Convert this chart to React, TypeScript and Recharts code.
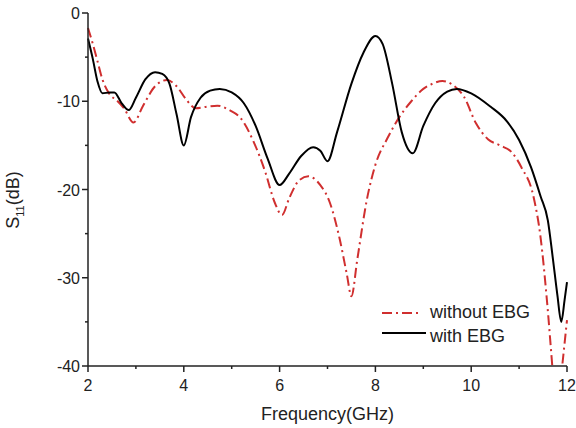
import { LineChart, Line, XAxis, YAxis, Legend } from "recharts";

// with EBG (black solid)
const freqWith = [
  2.0, 2.1, 2.2, 2.3, 2.45, 2.55, 2.7, 2.85, 3.0, 3.2, 3.4, 3.55, 3.7, 3.85, 4.0,
  4.15, 4.35, 4.55, 4.75, 5.0, 5.25, 5.5, 5.75, 6.0, 6.2, 6.45, 6.7, 6.85, 7.0,
  7.2, 7.5, 7.75, 8.0, 8.15, 8.35, 8.55, 8.78, 9.0, 9.25, 9.5, 9.7, 10.0, 10.4,
  10.75, 11.0, 11.25, 11.45, 11.6, 11.7, 11.8, 11.88, 11.95, 12.0,
];
const s11With = [
  -2.9, -5.2, -7.8, -9.1, -9.0, -9.0, -10.2, -11.0, -9.6, -7.5, -6.7, -6.9, -8.0, -11.5, -15.0,
  -11.8, -9.6, -8.8, -8.6, -9.0, -10.2, -12.8, -16.5, -19.5, -18.2, -16.2, -15.2, -15.6, -16.8,
  -13.5, -8.0, -4.5, -2.6, -3.5, -8.0, -13.5, -15.9, -12.8, -10.2, -8.9, -8.6, -9.1, -10.6,
  -12.3, -14.4, -17.5, -20.8, -23.5, -27.6, -32.0, -35.0, -32.5, -30.5,
];

// without EBG (red dash-dot)
const freqWithout = [
  2.0, 2.1, 2.2, 2.3, 2.45, 2.6, 2.75, 2.95, 3.15, 3.4, 3.65, 3.85, 4.05, 4.25, 4.5,
  4.7, 4.95, 5.2, 5.45, 5.7, 5.9, 6.05, 6.2, 6.4, 6.6, 6.85, 7.05, 7.25, 7.4, 7.5,
  7.62, 7.82, 8.0, 8.25, 8.5, 8.75, 9.0, 9.2, 9.4, 9.6, 9.85, 10.1, 10.35, 10.6,
  10.85, 11.05, 11.3, 11.45, 11.58, 11.7, 11.78, 11.9, 12.0,
];
const s11Without = [
  -1.7, -3.5, -5.5, -7.5, -9.2, -9.9, -10.8, -12.4, -10.5, -8.3, -7.6, -8.3, -9.8, -10.8, -10.6,
  -10.5, -11.0, -12.0, -14.5, -18.0, -21.5, -22.9, -21.0, -19.0, -18.5, -19.5, -21.5, -25.5, -29.5, -32.1,
  -28.0, -21.2, -17.2, -14.2, -11.8, -10.0, -8.6, -8.0, -7.7, -8.1, -9.5, -12.5, -14.3, -15.0,
  -15.8, -17.5, -20.8, -25.5, -32.5, -40.5, -46.0, -40.0, -34.8,
];

const xTicks = [2, 3, 4, 5, 6, 7, 8, 9, 10, 11, 12];
const yTicks = [-40, -35, -30, -25, -20, -15, -10, -5, 0];

const withData = freqWith.map((f, i) => ({ f, s11: s11With[i] }));
const withoutData = freqWithout.map((f, i) => ({ f, s11: s11Without[i] }));

const FONT = "Arial, 'Liberation Sans', Helvetica, sans-serif";
const INK = "#222";
const RED = "#d02f2f";

function XTick(props: any) {
  const { x, y, payload } = props;
  const axisY = y - 8;
  const major = payload.value % 2 === 0;
  return (
    <g>
      <line x1={x} x2={x} y1={axisY} y2={axisY + (major ? 6 : 3)} stroke={INK} strokeWidth={1.5} />
      {major && (
        <text x={x} y={axisY + 25} textAnchor="middle" fontSize={16} fill={INK} fontFamily={FONT}>
          {payload.value}
        </text>
      )}
    </g>
  );
}

function YTick(props: any) {
  const { x, y, payload } = props;
  const axisX = x + 8;
  const major = payload.value % 10 === 0;
  return (
    <g>
      <line x1={axisX} x2={axisX - (major ? 6 : 3)} y1={y} y2={y} stroke={INK} strokeWidth={1.5} />
      {major && (
        <text x={axisX - 8} y={y + 6} textAnchor="end" fontSize={16} fill={INK} fontFamily={FONT}>
          {payload.value}
        </text>
      )}
    </g>
  );
}

function LegendBox() {
  return (
    <svg width={190} height={52}>
      <line x1={6} x2={46} y1={15} y2={15} stroke={RED} strokeWidth={2} strokeDasharray="10 4 2 4" />
      <text x={54} y={20} fontSize={18} fill={INK} fontFamily={FONT}>without EBG</text>
      <line x1={6} x2={50} y1={35} y2={35} stroke="#000" strokeWidth={2} />
      <text x={54} y={44} fontSize={18} fill={INK} fontFamily={FONT}>with EBG</text>
    </svg>
  );
}

export default function App() {
  return (
    <div style={{ position: "absolute", left: 0, top: 0, background: "#fff" }}>
      <LineChart width={576} height={428} margin={{ top: 13, right: 9, bottom: 0, left: 0 }}>
        <XAxis
          dataKey="f"
          type="number"
          domain={[2, 12]}
          ticks={xTicks}
          interval={0}
          height={62}
          tickSize={6}
          tickMargin={2}
          tickLine={false}
          tick={<XTick />}
          axisLine={{ stroke: INK, strokeWidth: 1.5 }}
          allowDuplicatedCategory={false}
          label={{
            value: "Frequency(GHz)",
            position: "insideBottom",
            offset: 8,
            fontSize: 18,
            fill: INK,
            fontFamily: FONT,
          }}
        />
        <XAxis
          xAxisId="top"
          orientation="top"
          type="number"
          domain={[2, 12]}
          height={0}
          tick={false}
          tickLine={false}
          axisLine={{ stroke: "#555", strokeWidth: 1.5 }}
        />
        <YAxis
          type="number"
          domain={[-40, 0]}
          ticks={yTicks}
          interval={0}
          allowDataOverflow
          width={88}
          tickSize={6}
          tickMargin={2}
          tickLine={false}
          tick={<YTick />}
          axisLine={{ stroke: INK, strokeWidth: 1.5 }}
          label={{
            content: () => (
              <text
                x={19}
                y={200}
                transform="rotate(-90 19 200)"
                textAnchor="middle"
                fontSize={18}
                fill={INK}
                fontFamily={FONT}
              >
                <tspan>S</tspan>
                <tspan fontSize={11} dy={5}>11</tspan>
                <tspan dy={-5}>(dB)</tspan>
              </text>
            ),
          }}
        />
        <YAxis
          yAxisId="right"
          orientation="right"
          type="number"
          domain={[-40, 0]}
          width={0}
          tick={false}
          tickLine={false}
          axisLine={{ stroke: "#555", strokeWidth: 1.5 }}
        />
        <Line
          data={withoutData}
          dataKey="s11"
          type="monotone"
          stroke={RED}
          strokeWidth={2}
          strokeDasharray="10 4 2 4"
          dot={false}
          isAnimationActive={false}
        />
        <Line
          data={withData}
          dataKey="s11"
          type="monotone"
          stroke="#000"
          strokeWidth={2}
          dot={false}
          isAnimationActive={false}
        />
        <Legend
          layout="horizontal"
          verticalAlign="middle"
          align="center"
          wrapperStyle={{ left: 376, top: 298, width: 190, height: 52 }}
          content={() => <LegendBox />}
        />
      </LineChart>
    </div>
  );
}
